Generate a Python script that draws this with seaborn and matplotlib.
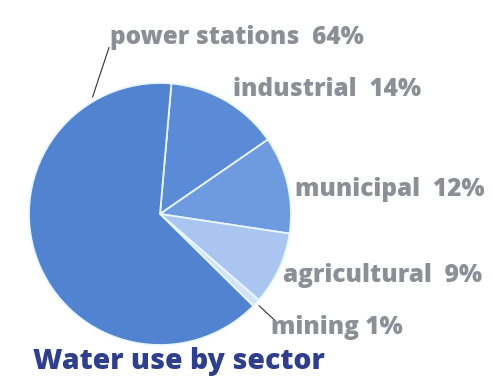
import matplotlib
matplotlib.use('Agg')
import matplotlib.pyplot as plt
import seaborn as sns
import numpy as np

# data
sectors = ['industrial', 'municipal', 'agricultural', 'mining', 'power stations']
shares = [14, 12, 9, 1, 64]
label_texts = ['industrial  14%', 'municipal  12%', 'agricultural  9%', 'mining 1%', 'power stations  64%']
slice_colors = ['#5b8ad6', '#6e9ae0', '#a9c5f0', '#d3e3f6', '#5283d0']

# label anchors in pixels (left x, centre y)
label_pos = [(233, 90), (295, 190), (283, 276), (271, 328), (110, 37)]

W, H = 493, 383
sns.set_theme(style='white')
plt.rcParams['font.family'] = ['Open Sans', 'DejaVu Sans']

fig = plt.figure(figsize=(W / 100, H / 100), dpi=100)
fig.patch.set_facecolor('white')

cx, cy, r = 160, 214, 131
ax = fig.add_axes([(cx - r) / W, (H - cy - r) / H, 2 * r / W, 2 * r / H])
wedges, _ = ax.pie(shares, colors=slice_colors, startangle=85, counterclock=False,
                   wedgeprops=dict(edgecolor='#e8f6ff', linewidth=1.3))
ax.set_xlim(-1, 1)
ax.set_ylim(-1, 1)
ax.axis('off')

# labels
for txt, (px, py) in zip(label_texts, label_pos):
    fig.text(px / W, 1 - py / H, txt, ha='left', va='center', fontsize=17.6,
             fontweight=800, color='#8b9097')

# leader lines
def edge(angle, rr):
    a = np.deg2rad(angle)
    return rr * np.cos(a), rr * np.sin(a)

mining = wedges[3]
mid = (mining.theta1 + mining.theta2) / 2
x0, y0 = edge(mid, 1.03)
x1, y1 = edge(mid, 1.2)
ax.plot([x0, x1], [y0, y1], color='#333333', lw=0.8, clip_on=False)

x0, y0 = edge(120, 1.03)
x1, y1 = edge(107, 1.33)
ax.plot([x0, x1], [y0, y1], color='#333333', lw=0.8, clip_on=False)

fig.text(33 / W, 1 - 362 / H, 'Water use by sector', ha='left', va='center',
         fontsize=20.4, fontweight=800, color='#2f3f8c')

fig.savefig('out.png', dpi=100)
